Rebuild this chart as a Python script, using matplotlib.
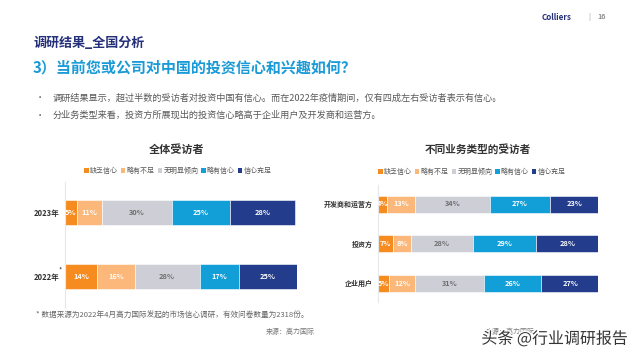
import numpy as np
import matplotlib
matplotlib.use("Agg")
import matplotlib.pyplot as plt
import matplotlib.patheffects as pe
from matplotlib.patches import Patch

plt.rcParams['font.family'] = ['Noto Sans CJK SC', 'DejaVu Sans']

# ---- data ----
levels = ['缺乏信心', '略有不足', '无明显倾向', '略有信心', '信心充足']
colors = ['#F68B1F', '#FBB87A', '#CDCED6', '#129FD8', '#233C8C']
label_colors = ['white', 'white', '#6d6d6d', 'white', 'white']

years = ['2023年', '2022年']
year_vals = [[5, 11, 30, 25, 28],
             [14, 16, 28, 17, 25]]

biz_types = ['开发商和运营方', '投资方', '企业用户']
biz_vals = [[4, 13, 34, 27, 23],
            [7, 8, 28, 29, 28],
            [5, 12, 31, 26, 27]]

W, H = 640, 360


def fx(x):
    return x / W


def fy(y):
    return 1 - y / H


fig = plt.figure(figsize=(6.4, 3.6), dpi=100)
fig.patch.set_facecolor('white')

# header
fig.text(fx(557), fy(17), 'Colliers', fontsize=5.8, fontweight='bold', color='#25307a', ha='center', va='center')
fig.text(fx(589), fy(17), '|', fontsize=5, color='#999999', ha='center', va='center')
fig.text(fx(602), fy(17), '16', fontsize=5.5, color='#666666', ha='center', va='center')
fig.text(fx(34), fy(43), '调研结果_全国分析', fontsize=9.4, fontweight='bold', color='#25307a', ha='left', va='center')
fig.text(fx(33), fy(68), '3）当前您或公司对中国的投资信心和兴趣如何？', fontsize=10.8, fontweight='bold',
         color='#1a9bd7', ha='left', va='center')
bullets = ['调研结果显示，超过半数的受访者对投资中国有信心。而在2022年疫情期间，仅有四成左右受访者表示有信心。',
           '分业务类型来看，投资方所展现出的投资信心略高于企业用户及开发商和运营方。']
for i, b in enumerate(bullets):
    yy = 98 + i * 17
    fig.text(fx(40), fy(yy), '•', fontsize=6, color='#595959', ha='center', va='center')
    fig.text(fx(53), fy(yy), b, fontsize=6.6, color='#595959', ha='left', va='center')


def stacked(ax, cats, vals, bar_h):
    vals = np.array(vals, dtype=float)
    y = np.arange(len(cats))
    left = np.zeros(len(cats))
    for j in range(vals.shape[1]):
        ax.barh(y, vals[:, j], left=left, height=bar_h, color=colors[j], edgecolor='white', linewidth=0.4)
        for i in range(len(cats)):
            ax.text(left[i] + vals[i, j] / 2, y[i], f'{int(vals[i, j])}%', ha='center', va='center',
                    fontsize=5.3, fontweight='bold', color=label_colors[j])
        left += vals[:, j]
    ax.set_yticks(y)
    ax.set_yticklabels(cats, fontsize=5.5, fontweight='bold', color='#333333')
    ax.tick_params(axis='y', length=0, pad=4)
    ax.set_xticks([])
    ax.set_xlim(0, 100)
    for s in ['top', 'right', 'bottom']:
        ax.spines[s].set_visible(False)
    ax.spines['left'].set_color('#e8e8e8')
    ax.spines['left'].set_linewidth(0.8)


handles = [Patch(facecolor=c, label=l) for c, l in zip(colors, levels)]

# left chart
ax1 = fig.add_axes([fx(65), fy(308), (297 - 65) / W, (308 - 182) / H])
stacked(ax1, years, year_vals, 25 / 64)
ax1.set_ylim((308 - 212.5) / 64, (182 - 212.5) / 64)
fig.text(fx(177), fy(149), '全体受访者', fontsize=8, fontweight='bold', color='#333333', ha='center', va='center')
fig.legend(handles=handles, loc='center', bbox_to_anchor=(fx(178), fy(171)), ncol=5, frameon=False,
           fontsize=5, handlelength=0.6, handleheight=0.6, handletextpad=0.2, columnspacing=0.45,
           labelcolor='#555555')
fig.text(fx(60), fy(271), '*', fontsize=5, color='#333333', ha='center', va='center')

# right chart
ax2 = fig.add_axes([fx(378), fy(302), (598 - 378) / W, (302 - 185) / H])
stacked(ax2, biz_types, biz_vals, 17 / 39.5)
ax2.set_ylim((302 - 204) / 39.5, (185 - 204) / 39.5)
ax2.tick_params(axis='y', labelsize=5)
fig.text(fx(478), fy(149), '不同业务类型的受访者', fontsize=7.7, fontweight='bold', color='#333333',
         ha='center', va='center')
fig.legend(handles=handles, loc='center', bbox_to_anchor=(fx(472), fy(172)), ncol=5, frameon=False,
           fontsize=5, handlelength=0.6, handleheight=0.6, handletextpad=0.2, columnspacing=0.45,
           labelcolor='#555555')

# footnotes
fig.text(fx(36), fy(316), '* 数据来源为2022年4月高力国际发起的市场信心调研，有效问卷数量为2318份。', fontsize=5.5,
         color='#666666', ha='left', va='center')
fig.text(fx(315), fy(332), '来源：高力国际', fontsize=5, color='#777777', ha='right', va='center')
fig.text(fx(535), fy(332), '来源：高力国际', fontsize=5, color='#777777', ha='right', va='center')

# watermark
fig.text(fx(628), fy(339), '头条 @行业调研报告', fontsize=11.5, color='#333333', ha='right', va='center',
         path_effects=[pe.withStroke(linewidth=2, foreground='white')])

fig.savefig('out.png', dpi=100, facecolor='white')
